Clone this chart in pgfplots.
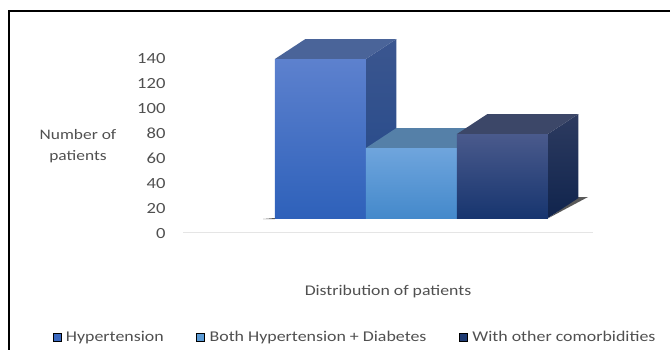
\documentclass[border=0pt]{standalone}
\usepackage{pgfplots}
\usepackage{fontspec}
\setmainfont[FakeStretch=1.2]{Carlito}
\pgfplotsset{compat=1.18}
\definecolor{txt}{HTML}{505050}
\definecolor{bluea}{HTML}{3A68C0}
\definecolor{blueb}{HTML}{5B9BD5}
\definecolor{bluec}{HTML}{1F3B73}
\definecolor{afronttop}{HTML}{5D81CE}
\definecolor{afrontmid}{HTML}{3F6DC8}
\definecolor{afrontbot}{HTML}{2E61BA}
\definecolor{asidetop}{HTML}{3B568F}
\definecolor{asidebot}{HTML}{22488A}
\definecolor{atop}{HTML}{4A6499}
\definecolor{bfronttop}{HTML}{6FA5DD}
\definecolor{bfrontmid}{HTML}{5A9FDC}
\definecolor{bfrontbot}{HTML}{4489CB}
\definecolor{bside}{HTML}{4A7298}
\definecolor{btop}{HTML}{5580A8}
\definecolor{cfronttop}{HTML}{4A5A8C}
\definecolor{cfrontmid}{HTML}{223F7C}
\definecolor{cfrontbot}{HTML}{17356F}
\definecolor{csidetop}{HTML}{2D3B60}
\definecolor{csidebot}{HTML}{10244D}
\definecolor{ctop}{HTML}{3C4768}
% Front face, side face and top face of one block, front given by its value
\newcommand{\block}[9]{%
  % #1 left, #2 right, #3 value, #4-#6 front top/mid/bottom, #7-#8 side top/bottom, #9 top face
  \pgfmathsetmacro{\xa}{#1+0.335}\pgfmathsetmacro{\xb}{#2+0.335}
  \pgfmathsetmacro{\yb}{#3+16}\pgfmathsetmacro{\ybase}{11.2+16}
  \edef\doplot{\noexpand\addplot[draw=none,forget plot,top color=#7,bottom color=#8]
     coordinates {(#2,11.2) (#2,#3) (\xb,\yb) (\xb,\ybase)} --cycle;
   \noexpand\addplot[draw=none,forget plot,fill=#9]
     coordinates {(#1,#3) (#2,#3) (\xb,\yb) (\xa,\yb)} --cycle;}%
  \doplot
  \addplot[draw=none,forget plot,top color=#4,middle color=#5,bottom color=#6]
     coordinates {(#1,11.2) (#2,11.2) (#2,#3) (#1,#3)} --cycle;
}
\begin{document}
\begin{tikzpicture}[x=1pt,y=1pt]
\useasboundingbox (0,0) rectangle (670,349);
\draw[black,line width=1.6pt] (9,-2) -- (9,338) -- (672,338);
\begin{axis}[
  at={(183pt,117pt)},anchor=south west,
  scale only axis,width=410pt,height=175pt,
  xmin=-1.01,xmax=3.495,ymin=0,ymax=140,
  clip=false,
  axis y line*=left,axis x line*=bottom,
  axis line style={draw=none},
  x axis line style={draw=black!10,line width=1pt},
  xtick=\empty,
  ytick={0,20,...,140},
  major tick length=0pt,
  tick label style={font=\fontsize{15.5}{17}\selectfont,text=txt},
  /pgf/number format/assume math mode=true,
  yticklabel style={anchor=east,xshift=-14pt,yshift=-1.2pt},
  legend style={at={(0.4195,-0.603)},anchor=center,draw=none,fill=none,
    legend columns=3,font=\fontsize{14.9}{17}\selectfont,text=txt,
    /tikz/every even column/.style={column sep=30.5pt},
    /tikz/every odd column/.style={column sep=3pt},
    inner sep=0pt},
  legend image code/.code={\fill[#1] (0pt,-4pt) rectangle (8pt,4pt);},
]
\addlegendimage{fill=bluea}
\addlegendentry{Hypertension}
\addlegendimage{fill=blueb}
\addlegendentry{Both Hypertension + Diabetes}
\addlegendimage{fill=bluec}
\addlegendentry{With other comorbidities}
% floor shadows
\addplot[draw=none,forget plot,fill=black!65] coordinates {(-0.13,10.4) (0,11.2) (0,10.4)} --cycle;
\addplot[draw=none,forget plot,fill=black!65] coordinates {(0,10.6) (3,10.6) (3,11.2) (0,11.2)} --cycle;
\addplot[draw=none,forget plot,fill=black!65] coordinates {(3,10.9) (3.44,28) (3.33,28)} --cycle;
\block{0}{1}{138.4}{afronttop}{afrontmid}{afrontbot}{asidetop}{asidebot}{atop}
\block{1}{2}{67.2}{bfronttop}{bfrontmid}{bfrontbot}{bside}{bside}{btop}
\block{2}{3}{78.4}{cfronttop}{cfrontmid}{cfrontbot}{csidetop}{csidebot}{ctop}
\end{axis}
\node[text=txt,align=center,font=\fontsize{14.5}{21}\selectfont] at (78,203) {Number of\\patients};
\node[text=txt,font=\fontsize{14.8}{17}\selectfont] at (388,57) {Distribution of patients};
\end{tikzpicture}
\end{document}
